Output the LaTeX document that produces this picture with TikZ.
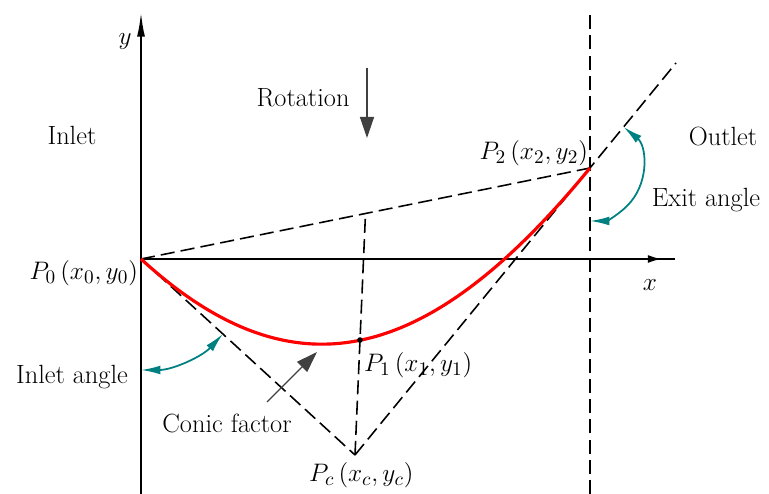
\documentclass[tikz,border=0pt]{standalone}
\usepackage{tikz}
\usetikzlibrary{positioning, arrows.meta, calc}
\definecolor{angleteal}{RGB}{0,128,128}
\definecolor{arrowgray}{RGB}{64,64,64}

\tikzset{
  axis/.style={line width=1.2pt},
  guide/.style={line width=0.9pt, dash pattern=on 8pt off 3.5pt},
  conic/.style={red, line width=1.8pt},
  anglearrow/.style={angleteal, line width=1pt, {Latex[length=11pt,width=5pt]}-{Latex[length=11pt,width=5pt]}},
  bigarrow/.style={arrowgray, line width=0.8pt, -{Triangle[length=12pt,width=8pt]}},
  lbl/.style={font=\fontsize{15}{18}\selectfont, inner sep=1pt}
}

\begin{document}
\begin{tikzpicture}
\useasboundingbox (0,0) rectangle (15.38,9.88);
    % Points
    \coordinate (P0) at (2.82,4.70);
    \coordinate (P2) at (11.8,6.52);
    \coordinate (Pc) at (7.10,0.78);
    \coordinate (M) at ($(P0)!0.5!(P2)$);
    \coordinate (P1) at ($(M)!0.524!(Pc)$);
    \coordinate (ybot) at (2.82,0);
    \coordinate (ytop) at (2.82,9.64);
    \coordinate (xhead) at (13.24,4.70);
    \coordinate (xend) at (13.5,4.70);
    \coordinate (vbot) at (11.8,0);
    \coordinate (vtop) at (11.8,9.64);
    \coordinate (exitend) at ($(Pc)!1.366!(P2)$);

    % Coordinate system
    \draw[axis, -{Latex[length=14pt,width=4.5pt]}] (ybot) -- (ytop);
    \draw[axis] (P0) -- (xend);
    \draw[axis, -{Latex[length=8pt,width=4.5pt]}] (P0) -- (xhead);

    % Construction lines
    \draw[guide] (vbot) -- (vtop);
    \draw[guide] (P0) -- (P2);
    \draw[guide] (P0) -- (Pc);
    \draw[guide] (Pc) -- (exitend);
    \draw[guide] (Pc) -- (M);

    % Conic curve
    \draw[conic] (P0) .. controls ($(P0)!0.7!(Pc)$) and ($(P2)!0.7!(Pc)$) .. (P2);
    \fill (P1) circle (1.6pt);

    % Angles
    \coordinate (inA) at ($(P0)+(-90:2.22)$);
    \coordinate (exA) at ($(P2)+(50.7:1.06)$);
    \draw[anglearrow] (inA) arc[start angle=-90, end angle=-42.5, radius=2.22];
    \draw[anglearrow] (exA) arc[start angle=50.7, end angle=-90, radius=1.06];

    % Arrows
    \coordinate (rotA) at (7.34,8.52);
    \coordinate (rotB) at (7.34,7.12);
    \draw[bigarrow] (rotA) -- (rotB);
    \coordinate (cfA) at (5.34,1.84);
    \coordinate (cfB) at (6.34,2.84);
    \draw[bigarrow] (cfA) -- (cfB);

    % Labels
    \node[lbl] (ylab) at (2.50,9.04) {$y$};
    \node[lbl] (xlab) at (13.0,4.18) {$x$};
    \node[lbl, anchor=east] (lP0) at (2.80,4.42) {$P_0\,(x_0, y_0)$};
    \node[lbl, anchor=east] (lP2) at (11.80,6.82) {$P_2\,(x_2, y_2)$};
    \node[lbl, anchor=west] (lP1) at (7.24,2.58) {$P_1\,(x_1, y_1)$};
    \node[lbl, anchor=west] (lPc) at (6.14,0.38) {$P_c\,(x_c, y_c)$};
    \node[lbl] (inlet) at (1.44,7.18) {Inlet};
    \node[lbl] (outlet) at (14.46,7.14) {Outlet};
    \node[lbl] (rot) at (6.06,7.92) {Rotation};
    \node[lbl] (exit) at (14.12,5.88) {Exit angle};
    \node[lbl] (inang) at (1.44,2.34) {Inlet angle};
    \node[lbl] (conicf) at (4.54,1.42) {Conic factor};
\end{tikzpicture}
\end{document}
